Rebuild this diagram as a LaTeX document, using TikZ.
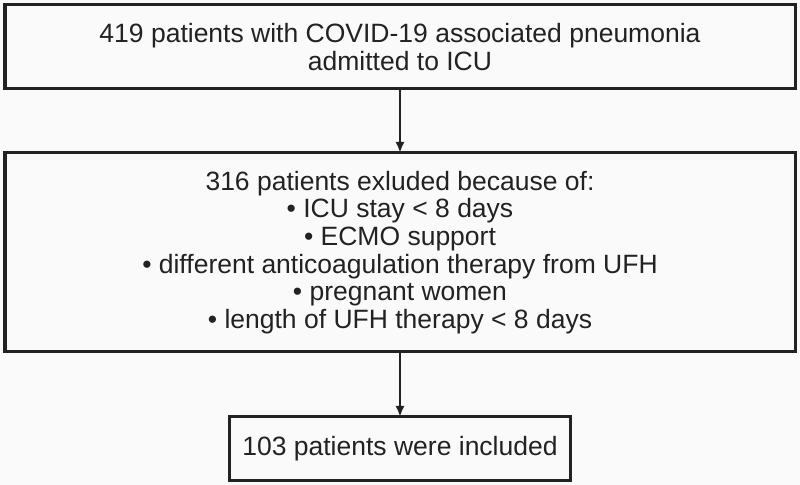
\documentclass[tikz,border=0pt]{standalone}
\usepackage{fontspec}
\setmainfont{Liberation Sans}
\usepackage{tikz}
\usetikzlibrary{arrows.meta,positioning}
\definecolor{inkgray}{RGB}{34,34,34}
\definecolor{paper}{RGB}{250,250,250}

\begin{document}
\begin{tikzpicture}[node distance=32pt,
  every node/.style={font=\fontsize{13.25pt}{13.8pt}\selectfont,align=center,text=inkgray},
  flowbox/.style={draw=inkgray,line width=1.5pt,inner sep=0pt,outer sep=0pt}]
\fill[paper] (0,0) rectangle (400pt,-242.5pt);
\useasboundingbox (0,0) rectangle (400pt,-242.5pt);
\node[flowbox,minimum width=395pt,minimum height=42pt] (admitted) at (200pt,-23.5pt) {419 patients with COVID-19 associated pneumonia\\admitted to ICU};
\node[flowbox,minimum width=395pt,minimum height=99.5pt,below=of admitted] (excluded) {316 patients exluded because of:\\
  • ICU stay < 8 days\\
  • ECMO support\\
  • different anticoagulation therapy from UFH\\
  • pregnant women\\
  • length of UFH therapy < 8 days};
\node[flowbox,minimum width=170.5pt,minimum height=32pt,below=32.5pt of excluded] (included) {103 patients were included};
\draw[-{Latex[length=5.5pt,width=4.5pt]},line width=1.2pt,inkgray] (admitted)--(excluded); \draw[-{Latex[length=5.5pt,width=4.5pt]},line width=1.2pt,inkgray] (excluded)--(included);
\end{tikzpicture}
\end{document}
